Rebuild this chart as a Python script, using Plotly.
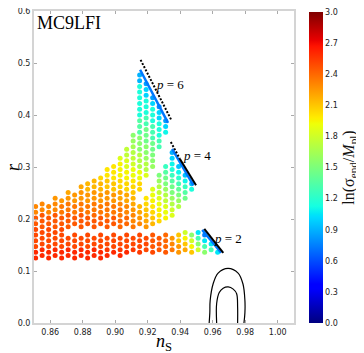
import plotly.graph_objects as go

# matplotlib "jet"
JET = [
    [0.0, "rgb(0,0,127)"], [0.11, "rgb(0,0,255)"], [0.125, "rgb(0,0,255)"],
    [0.34, "rgb(0,219,255)"], [0.35, "rgb(0,230,247)"], [0.375, "rgb(21,255,226)"],
    [0.64, "rgb(239,255,8)"], [0.65, "rgb(247,245,0)"], [0.66, "rgb(255,236,0)"],
    [0.89, "rgb(255,19,0)"], [0.91, "rgb(232,0,0)"], [1.0, "rgb(127,0,0)"],
]

# columns of points: (n_s, [r values], [ln(sigma_end/M_pl) values])
P2_COLUMNS = [
    (0.851, [0.125, 0.136, 0.147, 0.158, 0.169], [2.6, 2.6, 2.5, 2.5, 2.5]),
    (0.855, [0.130, 0.141, 0.152, 0.163, 0.174], [2.6, 2.6, 2.5, 2.5, 2.5]),
    (0.859, [0.125, 0.136, 0.147, 0.158, 0.169], [2.6, 2.6, 2.5, 2.5, 2.5]),
    (0.863, [0.130, 0.141, 0.152, 0.163, 0.174], [2.6, 2.6, 2.5, 2.5, 2.5]),
    (0.867, [0.125, 0.136, 0.147, 0.158, 0.169], [2.6, 2.6, 2.5, 2.5, 2.5]),
    (0.871, [0.130, 0.141, 0.152, 0.163], [2.6, 2.6, 2.5, 2.5]),
    (0.875, [0.125, 0.136, 0.147, 0.158, 0.169], [2.6, 2.6, 2.5, 2.5, 2.5]),
    (0.879, [0.130, 0.141, 0.152, 0.163], [2.6, 2.6, 2.5, 2.5]),
    (0.883, [0.125, 0.136, 0.147, 0.158, 0.169], [2.6, 2.6, 2.5, 2.5, 2.5]),
    (0.887, [0.130, 0.141, 0.152, 0.163], [2.6, 2.6, 2.5, 2.5]),
    (0.891, [0.125, 0.136, 0.147, 0.158, 0.169], [2.6, 2.6, 2.5, 2.5, 2.5]),
    (0.895, [0.130, 0.141, 0.152, 0.163], [2.6, 2.55, 2.5, 2.5]),
    (0.899, [0.136, 0.147, 0.158, 0.169], [2.6, 2.5, 2.5, 2.5]),
    (0.903, [0.130, 0.141, 0.152, 0.163], [2.6, 2.55, 2.5, 2.5]),
    (0.907, [0.136, 0.147, 0.158, 0.169], [2.6, 2.5, 2.5, 2.5]),
    (0.911, [0.141, 0.152, 0.163], [2.55, 2.5, 2.5]),
    (0.915, [0.136, 0.147, 0.158, 0.169], [2.55, 2.5, 2.5, 2.5]),
    (0.919, [0.141, 0.152, 0.163], [2.5, 2.5, 2.5]),
    (0.923, [0.136, 0.147, 0.158, 0.169], [2.5, 2.45, 2.45, 2.45]),
    (0.927, [0.141, 0.152, 0.163], [2.45, 2.45, 2.45]),
    (0.931, [0.136, 0.147, 0.158, 0.169], [2.45, 2.4, 2.4, 2.4]),
    (0.935, [0.141, 0.152, 0.163], [2.35, 2.3, 2.25]),
    (0.939, [0.136, 0.147, 0.158, 0.169], [2.25, 2.25, 2.1, 2.1]),
    (0.943, [0.141, 0.152, 0.163, 0.174], [2.2, 2.1, 1.95, 1.8]),
    (0.947, [0.136, 0.147, 0.158, 0.169], [2.1, 1.95, 1.8, 1.55]),
    (0.951, [0.141, 0.152, 0.163, 0.174], [1.8, 1.55, 1.3, 1.05]),
    (0.955, [0.136, 0.147, 0.158, 0.169], [1.55, 1.3, 1.05, 0.75]),
    (0.959, [0.141, 0.152], [1.3, 1.05]),
    (0.963, [0.136], [1.05]),
]

P4_COLUMNS = [
    (0.851, [0.180, 0.191, 0.202], [2.5, 2.45, 2.45]),
    (0.855, [0.185, 0.196, 0.207], [2.45, 2.45, 2.45]),
    (0.859, [0.180, 0.191, 0.202], [2.5, 2.45, 2.45]),
    (0.863, [0.185, 0.196, 0.207], [2.45, 2.45, 2.45]),
    (0.867, [0.180, 0.191, 0.202, 0.213, 0.224], [2.5, 2.45, 2.45, 2.35, 2.35]),
    (0.871, [0.185, 0.196, 0.207, 0.218, 0.229], [2.45, 2.45, 2.45, 2.35, 2.35]),
    (0.875, [0.191, 0.202, 0.213, 0.224], [2.45, 2.45, 2.35, 2.35]),
    (0.879, [0.185, 0.196, 0.207, 0.218, 0.229], [2.45, 2.45, 2.45, 2.35, 2.35]),
    (0.883, [0.191, 0.202, 0.213, 0.224], [2.45, 2.45, 2.35, 2.35]),
    (0.887, [0.185, 0.196, 0.207, 0.218, 0.229], [2.45, 2.45, 2.4, 2.35, 2.35]),
    (0.891, [0.191, 0.202, 0.213, 0.224], [2.45, 2.45, 2.35, 2.35]),
    (0.895, [0.185, 0.196, 0.207, 0.218, 0.229], [2.45, 2.45, 2.35, 2.35, 2.35]),
    (0.899, [0.191, 0.202, 0.213, 0.224], [2.45, 2.45, 2.35, 2.35]),
    (0.903, [0.185, 0.196, 0.207, 0.218, 0.229], [2.4, 2.4, 2.35, 2.35, 2.3]),
    (0.907, [0.191, 0.202, 0.213, 0.224], [2.4, 2.4, 2.3, 2.3]),
    (0.911, [0.185, 0.196, 0.207, 0.218, 0.229, 0.240], [2.35, 2.3, 2.3, 2.25, 2.2, 2.15]),
    (0.915, [0.191, 0.202, 0.213, 0.224], [2.3, 2.25, 2.2, 2.15]),
    (0.919, [0.185, 0.196, 0.207, 0.218, 0.229, 0.240], [2.25, 2.2, 2.15, 2.1, 2.05, 2.0]),
    (0.923, [0.191, 0.202, 0.213, 0.224, 0.235, 0.246, 0.257],
     [2.15, 2.1, 2.05, 2.0, 1.95, 1.9, 1.85]),
    (0.927, [0.196, 0.207, 0.218, 0.229, 0.240, 0.251, 0.262, 0.273, 0.284],
     [2.05, 2.0, 1.95, 1.9, 1.85, 1.75, 1.7, 1.6, 1.5]),
    (0.931, [0.202, 0.213, 0.224, 0.235, 0.246, 0.257, 0.268, 0.279, 0.290, 0.301],
     [1.95, 1.9, 1.85, 1.75, 1.7, 1.6, 1.5, 1.45, 1.35, 1.25]),
    (0.935, [0.207, 0.218, 0.229, 0.240, 0.251, 0.262, 0.273, 0.284, 0.295, 0.306, 0.317, 0.328],
     [1.85, 1.8, 1.7, 1.6, 1.5, 1.45, 1.35, 1.25, 1.15, 1.1, 1.0, 0.9]),
    (0.939, [0.224, 0.235, 0.246, 0.257, 0.268, 0.279, 0.290, 0.301],
     [1.7, 1.6, 1.5, 1.4, 1.3, 1.2, 1.1, 0.95]),
    (0.943, [0.240, 0.251, 0.262, 0.273, 0.284], [1.45, 1.35, 1.25, 1.1, 0.95]),
    (0.947, [0.257, 0.268], [1.15, 0.95]),
]

P6_COLUMNS = [
    (0.851, [0.213, 0.224], [2.3, 2.3]),
    (0.855, [0.218, 0.229], [2.3, 2.3]),
    (0.859, [0.213, 0.224], [2.3, 2.3]),
    (0.863, [0.218, 0.229, 0.240], [2.3, 2.3, 2.25]),
    (0.867, [0.235], [2.25]),
    (0.871, [0.240, 0.251], [2.25, 2.2]),
    (0.875, [0.235, 0.246], [2.25, 2.25]),
    (0.879, [0.240, 0.251, 0.262], [2.25, 2.25, 2.2]),
    (0.883, [0.235, 0.246, 0.257, 0.268], [2.25, 2.25, 2.15, 2.15]),
    (0.887, [0.240, 0.251, 0.262, 0.273], [2.25, 2.25, 2.15, 2.15]),
    (0.891, [0.235, 0.246, 0.257, 0.268, 0.279], [2.25, 2.25, 2.15, 2.15, 2.05]),
    (0.895, [0.240, 0.251, 0.262, 0.273, 0.284, 0.295], [2.25, 2.25, 2.1, 2.1, 2.0, 2.0]),
    (0.899, [0.235, 0.246, 0.257, 0.268, 0.279, 0.290, 0.301], [2.25, 2.25, 2.1, 2.1, 2.0, 2.0, 2.0]),
    (0.903, [0.240, 0.251, 0.262, 0.273, 0.284, 0.295, 0.306, 0.317],
     [2.2, 2.2, 2.05, 2.05, 1.95, 1.95, 1.95, 1.85]),
    (0.907, [0.235, 0.246, 0.257, 0.268, 0.279, 0.290, 0.301, 0.312, 0.323, 0.334],
     [2.2, 2.2, 2.05, 2.05, 1.95, 1.95, 1.85, 1.85, 1.75, 1.75]),
    (0.911, [0.251, 0.262, 0.273, 0.284, 0.295, 0.306, 0.317, 0.328, 0.339, 0.350, 0.361],
     [2.1, 2.05, 2.0, 1.9, 1.9, 1.8, 1.75, 1.7, 1.65, 1.6, 1.55]),
    (0.915, [0.257, 0.268, 0.279, 0.290, 0.301, 0.312, 0.323, 0.334, 0.345, 0.356, 0.367,
             0.378, 0.389, 0.400, 0.411, 0.422, 0.433, 0.444, 0.455, 0.466, 0.477],
     [2.05, 2.05, 1.9, 1.9, 1.7, 1.7, 1.7, 1.55, 1.55, 1.55, 1.35,
      1.35, 1.35, 1.15, 1.15, 1.15, 1.15, 1.15, 1.15, 0.9, 0.9]),
    (0.919, [0.284, 0.295, 0.306, 0.317, 0.328, 0.339, 0.350, 0.361, 0.372,
             0.383, 0.394, 0.405, 0.416, 0.427, 0.438, 0.449, 0.460],
     [1.85, 1.7, 1.7, 1.6, 1.55, 1.55, 1.45, 1.45, 1.45,
      1.3, 1.3, 1.15, 1.15, 1.15, 1.0, 1.0, 0.85]),
    (0.923, [0.301, 0.312, 0.323, 0.334, 0.345, 0.356, 0.367, 0.378, 0.389, 0.400, 0.411, 0.422, 0.433],
     [1.6, 1.55, 1.5, 1.45, 1.45, 1.3, 1.3, 1.3, 1.15, 1.15, 1.15, 1.0, 0.85]),
    (0.927, [0.339, 0.350, 0.361, 0.372, 0.383, 0.394, 0.405, 0.416],
     [1.3, 1.3, 1.15, 1.15, 1.15, 1.0, 1.0, 0.8]),
    (0.931, [0.367, 0.378, 0.389], [1.1, 1.0, 0.85]),
]

# end points of the branches (coloured edge) and the predicted lines (black)
EDGE_NS = {"p2": [0.9535, 0.9652], "p4": [0.935, 0.948], "p6": [0.9153, 0.9325]}
EDGE_R = {"p2": [0.179, 0.135], "p4": [0.335, 0.265], "p6": [0.487, 0.385]}
LINE6_NS, LINE6_R = [0.9156, 0.9344], [0.506, 0.391]
LINE4_DOT_NS, LINE4_DOT_R = [0.9342, 0.9397], [0.348, 0.316]
LINE4_NS, LINE4_R = [0.9397, 0.9497], [0.316, 0.265]
LINE2_NS, LINE2_R = [0.9548, 0.9665], [0.181, 0.135]

# Planck contours
OUTER_NS = [0.9578, 0.9582, 0.9584, 0.9602, 0.9633, 0.9694, 0.9756, 0.9786, 0.9798, 0.9798, 0.9792]
OUTER_R = [0.0, 0.02, 0.043, 0.075, 0.096, 0.105, 0.096, 0.075, 0.043, 0.02, 0.0]
INNER_NS = [0.9624, 0.9624, 0.9640, 0.9664, 0.9695, 0.9726, 0.9747, 0.9753, 0.9753]
INNER_R = [0.0, 0.0376, 0.0588, 0.067, 0.0695, 0.0652, 0.0564, 0.0306, 0.0]

X_TICKS = [0.86, 0.88, 0.90, 0.92, 0.94, 0.96, 0.98, 1.00]
Y_TICKS = [0.0, 0.1, 0.2, 0.3, 0.4, 0.5, 0.6]
CB_TICKS = [0.0, 0.3, 0.6, 0.9, 1.2, 1.5, 1.8, 2.1, 2.4, 2.7, 3.0]


def unpack(columns):
    xs, ys, cs = [], [], []
    for ns, rs, vals in columns:
        xs += [ns] * len(rs)
        ys += rs
        cs += vals
    return xs, ys, cs


fig = go.Figure()

for i, cols in enumerate([P2_COLUMNS, P4_COLUMNS, P6_COLUMNS]):
    xs, ys, cs = unpack(cols)
    marker = dict(size=5, color=cs, colorscale=JET, cmin=0, cmax=3, line=dict(width=0))
    if i == 0:
        marker["showscale"] = True
        marker["colorbar"] = dict(
            x=1.058, xanchor="left", y=0, yanchor="bottom",
            thickness=14, len=311, lenmode="pixels", xpad=0, ypad=0,
            outlinewidth=0, ticks="", ticklabeloverflow="allow",
            tickvals=CB_TICKS, ticktext=["%.1f" % v for v in CB_TICKS],
            tickfont=dict(family="DejaVu Sans", size=8, color="#222"),
            title=dict(text="ln(σ<sub>end</sub>/<i>M</i><sub>pl</sub>)", side="right",
                       font=dict(family="Liberation Serif", size=16, color="#111")),
        )
    fig.add_trace(go.Scatter(x=xs, y=ys, mode="markers", marker=marker, showlegend=False))

for key in ["p2", "p4", "p6"]:
    fig.add_trace(go.Scatter(x=EDGE_NS[key], y=EDGE_R[key], mode="lines",
                             line=dict(color="rgb(0,120,255)", width=2.5), showlegend=False))

fig.add_trace(go.Scatter(x=LINE6_NS, y=LINE6_R, mode="lines",
                         line=dict(color="black", width=2, dash="2px,1.6px"), showlegend=False))
fig.add_trace(go.Scatter(x=LINE4_DOT_NS, y=LINE4_DOT_R, mode="lines",
                         line=dict(color="black", width=2, dash="2px,1.6px"), showlegend=False))
fig.add_trace(go.Scatter(x=LINE4_NS, y=LINE4_R, mode="lines",
                         line=dict(color="black", width=2), showlegend=False))
fig.add_trace(go.Scatter(x=LINE2_NS, y=LINE2_R, mode="lines",
                         line=dict(color="black", width=2), showlegend=False))

for xs, ys in [(OUTER_NS, OUTER_R), (INNER_NS, INNER_R)]:
    fig.add_trace(go.Scatter(x=xs, y=ys, mode="lines",
                             line=dict(color="black", width=1.2, shape="spline"),
                             showlegend=False))

axis_common = dict(
    showgrid=False, zeroline=False, showline=True, linecolor="#d4d4d4", linewidth=2,
    mirror="ticks", ticks="inside", ticklen=3, tickcolor="#aaaaaa",
    tickfont=dict(family="DejaVu Sans", size=8, color="#222"),
    automargin=False, ticklabeloverflow="allow",
)
fig.update_xaxes(range=[0.85, 1.01], tickvals=X_TICKS,
                 ticktext=["%.2f" % v for v in X_TICKS], **axis_common)
fig.update_yaxes(range=[0, 0.6], tickvals=Y_TICKS,
                 ticktext=["%.1f" % v for v in Y_TICKS], **axis_common)

serif = "Liberation Serif"
labels = [(0.9337, 0.459, "6"), (0.9503, 0.323, "4"), (0.9693, 0.162, "2")]
for x, y, p in labels:
    fig.add_annotation(x=x, y=y, text="<i>p</i> = " + p, showarrow=False,
                       font=dict(family=serif, size=13, color="black"))

fig.add_annotation(x=0, y=1, xref="paper", yref="paper", xanchor="left", yanchor="top",
                   xshift=1, yshift=0, text="MC9LFI", showarrow=False,
                   font=dict(family=serif, size=18, color="black"))
fig.add_annotation(x=0.5, y=0, xref="paper", yref="paper", xanchor="center", yanchor="top",
                   yshift=-6, text="<i>n</i><sub>S</sub>", showarrow=False,
                   font=dict(family=serif, size=18, color="black"))
fig.add_annotation(x=0, y=0.5, xref="paper", yref="paper", xanchor="center", yanchor="middle",
                   xshift=-21, text="<i>r</i>", textangle=-90, showarrow=False,
                   font=dict(family=serif, size=18, color="black"))

# the page sits 8px in from the window corner, so the figure is 8px smaller
fig.update_layout(
    width=356, height=345,
    margin=dict(l=26, r=70, t=3, b=30, autoexpand=False),
    paper_bgcolor="white", plot_bgcolor="white",
)

fig.write_html("out.html")
